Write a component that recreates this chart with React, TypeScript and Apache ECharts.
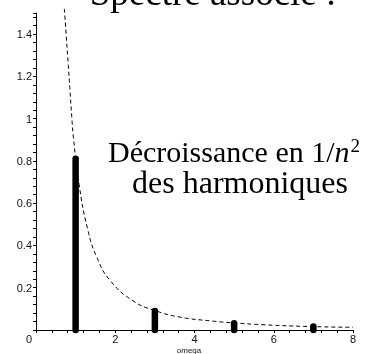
import React, { useEffect, useRef } from "react";
import * as echarts from "echarts";

const harmonics = [1, 3, 5, 7];
const amplitudes = [0.81, 0.09, 0.032, 0.017];

const curveOmega = [0.715, 0.816, 0.859, 0.902, 0.95, 1.086, 1.3, 1.533, 1.869, 2.449, 3.005, 3.636, 4.47, 4.97, 5.73, 6.99, 8.0];
const curveValue = [1.52, 1.25, 1.13, 1.01, 0.9, 0.69, 0.48, 0.345, 0.235, 0.138, 0.092, 0.061, 0.042, 0.034, 0.025, 0.016, 0.013];

const xMajor = [0, 2, 4, 6, 8];
const yMajor = [0.2, 0.4, 0.6, 0.8, 1, 1.2, 1.4];

const isIn = (arr: number[], v: number) => arr.some((a) => Math.abs(a - v) < 1e-6);

export default function App() {
  const ref = useRef<HTMLDivElement>(null);
  useEffect(() => {
    const chart = echarts.init(ref.current!, null, { renderer: "svg" });
    const tickStyle = { color: "#000", width: 1 };
    const baseX = {
      type: "value" as const,
      min: 0,
      max: 8,
      interval: 0.4,
      splitLine: { show: false },
    };
    const baseY = {
      type: "value" as const,
      min: 0,
      max: 1.5,
      interval: 0.04,
      splitLine: { show: false },
    };
    chart.setOption({
      animation: false,
      grid: { left: 36, right: 25, top: 13, bottom: 24 },
      xAxis: [
        {
          ...baseX,
          axisLine: { show: true, lineStyle: { color: "#000", width: 1 }, onZero: false },
          axisTick: { show: true, length: 3, inside: false, lineStyle: tickStyle },
          axisLabel: {
            margin: 3,
            fontSize: 11,
            fontFamily: "Liberation Sans",
            color: "#111",
            formatter: (v: number) => {
              if (!isIn(xMajor, v)) return "";
              if (Math.abs(v) < 1e-6) return "{z|0}";
              return String(Math.round(v));
            },
            rich: { z: { fontSize: 11, fontFamily: "Liberation Sans", color: "#111", padding: [0, 14, 0, 0] } },
          },
        },
        {
          ...baseX,
          axisLine: { show: false },
          axisTick: { show: true, length: 3, inside: true, lineStyle: tickStyle },
          axisLabel: { show: false },
        },
      ],
      yAxis: [
        {
          ...baseY,
          axisLine: { show: true, lineStyle: { color: "#000", width: 1 }, onZero: false },
          axisTick: { show: true, length: 3, inside: false, lineStyle: tickStyle },
          axisLabel: {
            margin: 4,
            fontSize: 11,
            fontFamily: "Liberation Sans",
            color: "#111",
            formatter: (v: number) => (isIn(yMajor, v) ? String(Math.round(v * 10) / 10) : ""),
          },
        },
        {
          ...baseY,
          axisLine: { show: false },
          axisTick: { show: true, length: 3, inside: true, lineStyle: tickStyle },
          axisLabel: { show: false },
        },
      ],
      series: [
        {
          type: "line",
          data: curveOmega.map((w, i) => [w, curveValue[i]]),
          smooth: 0.5,
          symbol: "none",
          clip: false,
          lineStyle: { color: "#000", width: 1, type: [4, 3] },
        },
        ...harmonics.map((h, i) => ({
          type: "line",
          data: [
            [h, 0],
            [h, amplitudes[i]],
          ],
          symbol: "none",
          clip: false,
          lineStyle: { color: "#000", width: 6.5, cap: "round" },
        })),
      ],
      graphic: [
        {
          type: "text",
          x: 213,
          y: -8,
          style: {
            text: "Spectre associé :",
            font: "37px 'Liberation Serif'",
            fill: "#000",
            align: "center",
            verticalAlign: "middle",
          },
        },
        {
          type: "text",
          x: 234,
          y: 151,
          style: {
            text: "{a|Décroissance en 1/}{i|n}{s|2}",
            align: "center",
            verticalAlign: "middle",
            rich: {
              a: { font: "30px 'Liberation Serif'", fill: "#000" },
              i: { font: "italic 30px 'Liberation Serif'", fill: "#000" },
              s: { font: "19px 'Liberation Serif'", fill: "#000", verticalAlign: "top", padding: [0, 0, 0, 1] },
            },
          },
        },
        {
          type: "text",
          x: 240,
          y: 182,
          style: {
            text: "des harmoniques",
            font: "32px 'Liberation Serif'",
            fill: "#000",
            align: "center",
            verticalAlign: "middle",
          },
        },
        {
          type: "text",
          x: 189,
          y: 350,
          style: {
            text: "omega",
            font: "8px 'Liberation Sans'",
            fill: "#111",
            align: "center",
            verticalAlign: "middle",
          },
        },
      ],
    });
    return () => chart.dispose();
  }, []);
  return <div ref={ref} style={{ position: "fixed", left: 0, top: 0, width: 378, height: 354 }} />;
}
